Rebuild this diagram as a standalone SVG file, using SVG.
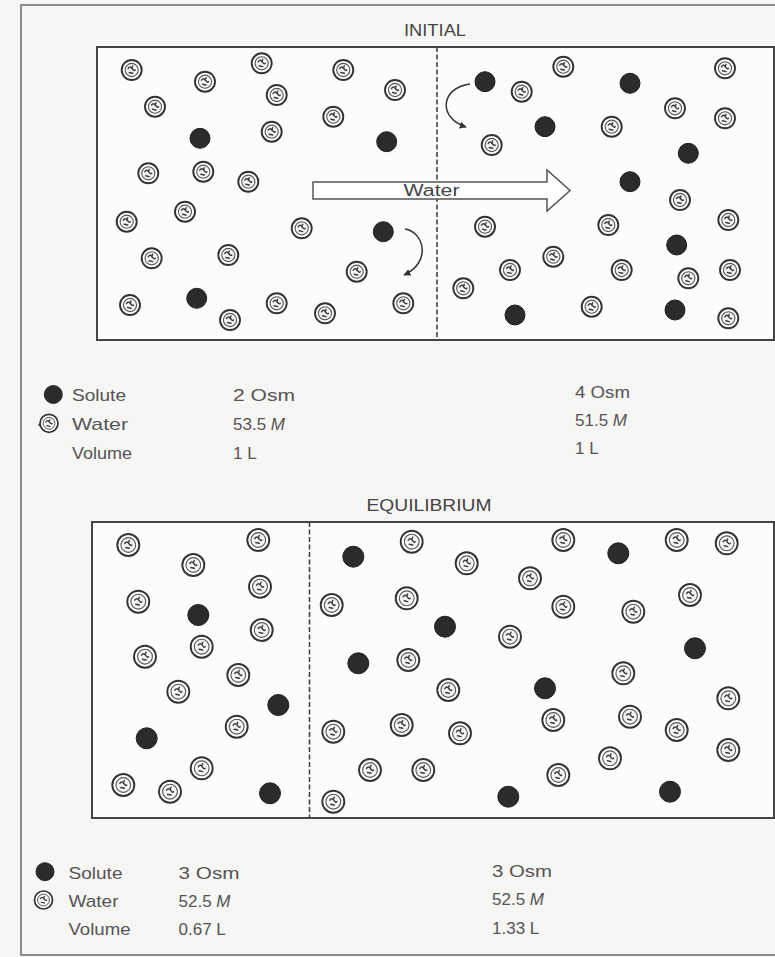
<svg xmlns="http://www.w3.org/2000/svg" xmlns:xlink="http://www.w3.org/1999/xlink" width="775" height="957" viewBox="0 0 775 957">
<style>
.frame{fill:none;stroke:#6a6a6a;stroke-width:1.5}
.box{fill:#fcfcfb;stroke:#444;stroke-width:2}
.dash{stroke:#444;stroke-width:1.6;stroke-dasharray:5 2.5;fill:none}
.title{font-family:"Liberation Sans",Arial,sans-serif;font-size:16px;fill:#444}
.lbl{font-family:"Liberation Sans",Arial,sans-serif;font-size:17px;fill:#555}
.sol{fill:#2b2b2b;stroke:#1e1e1e;stroke-width:1}
.curve{fill:none;stroke:#333;stroke-width:1.5}
.warrow{fill:#fff;stroke:#555;stroke-width:1.5}
.sq{fill:none;stroke:#3a3a3a;stroke-width:1.4;stroke-linecap:round}
</style>
<defs>
<g id="wm">
<circle r="10" fill="#fff" stroke="#333" stroke-width="1.9"/>
<circle r="6.6" fill="#f4f4f4" stroke="#555" stroke-width="1.1"/>
<path class="sq" d="M-3.5,-1.5 q2,-3 4,0 t3,1.5 M-2.5,2.5 l3.5,0.8 M1,-4 l-1,2.5"/>
</g>
<g id="wm2">
<circle r="11" fill="#fff" stroke="#333" stroke-width="1.9"/>
<circle r="7.4" fill="#f4f4f4" stroke="#555" stroke-width="1.1"/>
<path class="sq" d="M-3.5,-1.5 q2,-3 4,0 t3,1.5 M-2.5,2.5 l3.5,0.8 M1,-4.5 l-1,2.5"/>
</g>
<g id="sm"><circle r="10" class="sol"/></g>
<g id="sm2"><circle r="10.5" class="sol"/></g>
<marker id="ah" viewBox="0 0 10 10" refX="9" refY="5" markerWidth="7" markerHeight="7" orient="auto" markerUnits="userSpaceOnUse">
<path d="M0,0 L10,5 L0,10 z" fill="#333"/>
</marker>
</defs>
<rect width="775" height="957" fill="#f6f6f4"/>
<rect class="frame" x="21" y="5" width="770" height="950"/>

<g id="initial">
<text class="title" x="435" y="36" text-anchor="middle" textLength="62" lengthAdjust="spacingAndGlyphs">INITIAL</text>
<rect class="box" x="97" y="47" width="677" height="293"/>
<line class="dash" x1="437" y1="47" x2="437" y2="340"/>
<g id="initial-left">
<use xlink:href="#wm" x="131.7" y="70"/>
<use xlink:href="#wm" x="205" y="81.7"/>
<use xlink:href="#wm" x="261.7" y="63.3"/>
<use xlink:href="#wm" x="343.3" y="70"/>
<use xlink:href="#wm" x="155" y="106.7"/>
<use xlink:href="#wm" x="276.7" y="95"/>
<use xlink:href="#wm" x="395" y="90"/>
<use xlink:href="#wm" x="333.3" y="116.7"/>
<use xlink:href="#wm" x="271.7" y="131.7"/>
<use xlink:href="#wm" x="148.3" y="173.3"/>
<use xlink:href="#wm" x="203.3" y="171.7"/>
<use xlink:href="#wm" x="248.3" y="181.7"/>
<use xlink:href="#wm" x="126.7" y="221.7"/>
<use xlink:href="#wm" x="185" y="211.7"/>
<use xlink:href="#wm" x="301.7" y="228.3"/>
<use xlink:href="#wm" x="151.7" y="258.3"/>
<use xlink:href="#wm" x="228.3" y="255"/>
<use xlink:href="#wm" x="356.7" y="271.7"/>
<use xlink:href="#wm" x="130" y="305"/>
<use xlink:href="#wm" x="230" y="320"/>
<use xlink:href="#wm" x="276.7" y="303.3"/>
<use xlink:href="#wm" x="325" y="313.3"/>
<use xlink:href="#wm" x="403.3" y="303.3"/>
<use xlink:href="#sm" x="200" y="138.3"/>
<use xlink:href="#sm" x="386.7" y="141.7"/>
<use xlink:href="#sm" x="383.3" y="231.7"/>
<use xlink:href="#sm" x="196.7" y="298.3"/>
</g>
<g id="initial-right">
<use xlink:href="#wm" x="563.3" y="66.7"/>
<use xlink:href="#wm" x="725" y="68.3"/>
<use xlink:href="#wm" x="521.7" y="91.7"/>
<use xlink:href="#wm" x="675" y="108.3"/>
<use xlink:href="#wm" x="725" y="118.3"/>
<use xlink:href="#wm" x="611.7" y="126.7"/>
<use xlink:href="#wm" x="491.7" y="145"/>
<use xlink:href="#wm" x="680" y="200"/>
<use xlink:href="#wm" x="728.3" y="220"/>
<use xlink:href="#wm" x="485" y="226.7"/>
<use xlink:href="#wm" x="608.3" y="225"/>
<use xlink:href="#wm" x="553.3" y="256.7"/>
<use xlink:href="#wm" x="510" y="270"/>
<use xlink:href="#wm" x="621.7" y="270"/>
<use xlink:href="#wm" x="688.3" y="278.3"/>
<use xlink:href="#wm" x="730" y="270"/>
<use xlink:href="#wm" x="463.3" y="288.3"/>
<use xlink:href="#wm" x="591.7" y="306.7"/>
<use xlink:href="#wm" x="728.3" y="318.3"/>
<use xlink:href="#sm" x="485" y="81.7"/>
<use xlink:href="#sm" x="630" y="83.3"/>
<use xlink:href="#sm" x="545" y="126.7"/>
<use xlink:href="#sm" x="688.3" y="153.3"/>
<use xlink:href="#sm" x="630" y="181.7"/>
<use xlink:href="#sm" x="676.7" y="245"/>
<use xlink:href="#sm" x="515" y="315"/>
<use xlink:href="#sm" x="675" y="310"/>
</g>
</g>

<g id="connectors">
<polygon class="warrow" points="313,182 547,182 547,170 570,190.5 547,211 547,199 313,199"/>
<text class="title" x="431.5" y="196" text-anchor="middle" font-size="16" textLength="56" lengthAdjust="spacingAndGlyphs">Water</text>
<path class="curve" d="M405,229 C424,232 432,262 404,275" marker-end="url(#ah)"/>
<path class="curve" d="M470,84 C440,88 438,118 466,127" marker-end="url(#ah)"/>
</g>

<g id="legend-initial">
<use xlink:href="#sm" x="53.3" y="394.5" transform="translate(53.3 394.5) scale(0.9) translate(-53.3 -394.5)"/>
<text class="lbl" x="72" y="401" textLength="54" lengthAdjust="spacingAndGlyphs">Solute</text>
<text class="lbl" x="233" y="401" textLength="62" lengthAdjust="spacingAndGlyphs">2 Osm</text>
<text class="lbl" x="575" y="397.5" textLength="55" lengthAdjust="spacingAndGlyphs">4 Osm</text>
<circle cx="39.5" cy="425" r="1.2" fill="#444"/>
<use xlink:href="#wm" x="49" y="423.3" transform="translate(49 423.3) scale(0.9) translate(-49 -423.3)"/>
<text class="lbl" x="72" y="430" textLength="56" lengthAdjust="spacingAndGlyphs">Water</text>
<text class="lbl" x="233" y="430">53.5 <tspan font-style="italic">M</tspan></text>
<text class="lbl" x="575" y="425.5">51.5 <tspan font-style="italic">M</tspan></text>
<text class="lbl" x="72" y="458.5" textLength="60" lengthAdjust="spacingAndGlyphs">Volume</text>
<text class="lbl" x="233" y="458.5">1 L</text>
<text class="lbl" x="575" y="453.5">1 L</text>
</g>

<g id="equilibrium">
<text class="title" x="429" y="511" text-anchor="middle" textLength="125" lengthAdjust="spacingAndGlyphs">EQUILIBRIUM</text>
<rect class="box" x="92" y="522" width="682" height="296"/>
<line class="dash" x1="309.5" y1="522" x2="309.5" y2="818"/>
<g id="equilibrium-left">
<use xlink:href="#wm2" x="128.3" y="545"/>
<use xlink:href="#wm2" x="193.3" y="565"/>
<use xlink:href="#wm2" x="258.3" y="540"/>
<use xlink:href="#wm2" x="260" y="586.7"/>
<use xlink:href="#wm2" x="138.3" y="601.7"/>
<use xlink:href="#wm2" x="261.7" y="630"/>
<use xlink:href="#wm2" x="201.7" y="646.7"/>
<use xlink:href="#wm2" x="145" y="656.7"/>
<use xlink:href="#wm2" x="238.3" y="675"/>
<use xlink:href="#wm2" x="178.3" y="691.7"/>
<use xlink:href="#wm2" x="236.7" y="726.7"/>
<use xlink:href="#wm2" x="201.7" y="768.3"/>
<use xlink:href="#wm2" x="123.3" y="785"/>
<use xlink:href="#wm2" x="170" y="791.7"/>
<use xlink:href="#sm2" x="198.3" y="615"/>
<use xlink:href="#sm2" x="278.3" y="705"/>
<use xlink:href="#sm2" x="146.7" y="738.3"/>
<use xlink:href="#sm2" x="270" y="793.3"/>
</g>
<g id="equilibrium-right">
<use xlink:href="#wm2" x="411.7" y="541.7"/>
<use xlink:href="#wm2" x="563.3" y="540"/>
<use xlink:href="#wm2" x="676.7" y="540"/>
<use xlink:href="#wm2" x="726.7" y="543.3"/>
<use xlink:href="#wm2" x="466.7" y="563.3"/>
<use xlink:href="#wm2" x="530" y="578.3"/>
<use xlink:href="#wm2" x="331.7" y="605"/>
<use xlink:href="#wm2" x="406.7" y="598.3"/>
<use xlink:href="#wm2" x="563.3" y="606.7"/>
<use xlink:href="#wm2" x="633.3" y="611.7"/>
<use xlink:href="#wm2" x="690" y="595"/>
<use xlink:href="#wm2" x="510" y="636.7"/>
<use xlink:href="#wm2" x="408.3" y="660"/>
<use xlink:href="#wm2" x="623.3" y="673.3"/>
<use xlink:href="#wm2" x="448.3" y="690"/>
<use xlink:href="#wm2" x="728.3" y="698.3"/>
<use xlink:href="#wm2" x="553.3" y="720"/>
<use xlink:href="#wm2" x="630" y="716.7"/>
<use xlink:href="#wm2" x="676.7" y="730"/>
<use xlink:href="#wm2" x="401.7" y="725"/>
<use xlink:href="#wm2" x="460" y="733.3"/>
<use xlink:href="#wm2" x="333.3" y="731.7"/>
<use xlink:href="#wm2" x="728.3" y="750"/>
<use xlink:href="#wm2" x="610" y="758.3"/>
<use xlink:href="#wm2" x="370" y="770"/>
<use xlink:href="#wm2" x="423.3" y="770"/>
<use xlink:href="#wm2" x="558.3" y="775"/>
<use xlink:href="#wm2" x="333.3" y="801.7"/>
<use xlink:href="#sm2" x="353.3" y="556.7"/>
<use xlink:href="#sm2" x="618.3" y="553.3"/>
<use xlink:href="#sm2" x="445" y="626.7"/>
<use xlink:href="#sm2" x="358.3" y="663.3"/>
<use xlink:href="#sm2" x="695" y="648.3"/>
<use xlink:href="#sm2" x="545" y="688.3"/>
<use xlink:href="#sm2" x="508.3" y="796.7"/>
<use xlink:href="#sm2" x="670" y="791.7"/>
</g>
</g>

<g id="legend-equilibrium">
<use xlink:href="#sm" x="45" y="871.7" transform="translate(45 871.7) scale(0.9) translate(-45 -871.7)"/>
<text class="lbl" x="68.5" y="878.5" textLength="54" lengthAdjust="spacingAndGlyphs">Solute</text>
<text class="lbl" x="178.5" y="878.5" textLength="61" lengthAdjust="spacingAndGlyphs">3 Osm</text>
<text class="lbl" x="492" y="876.5" textLength="60" lengthAdjust="spacingAndGlyphs">3 Osm</text>
<use xlink:href="#wm" x="43.5" y="900" transform="translate(43.5 900) scale(0.9) translate(-43.5 -900)"/>
<text class="lbl" x="68.5" y="906.5" textLength="50" lengthAdjust="spacingAndGlyphs">Water</text>
<text class="lbl" x="178.5" y="906.5">52.5 <tspan font-style="italic">M</tspan></text>
<text class="lbl" x="492" y="905">52.5 <tspan font-style="italic">M</tspan></text>
<text class="lbl" x="68.5" y="935" textLength="62" lengthAdjust="spacingAndGlyphs">Volume</text>
<text class="lbl" x="178.5" y="935">0.67 L</text>
<text class="lbl" x="492" y="933.5">1.33 L</text>
</g>
</svg>
